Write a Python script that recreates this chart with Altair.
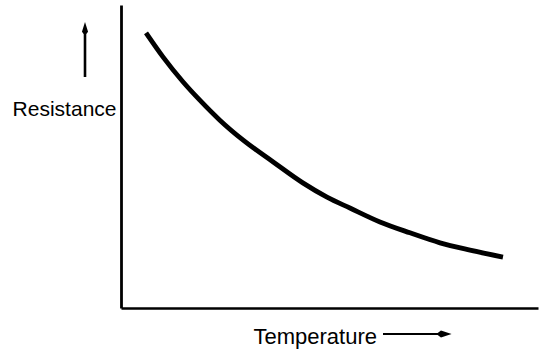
import altair as alt
import pandas as pd

# Values (arbitrary 0-100 units)
temperature = [6.0, 10.1, 14.9, 18.9, 23.7, 29.3, 36.5, 43.6, 49.4, 54.9, 62.1, 69.3, 76.5, 83.7, 91.6]
resistance = [90.8, 82.8, 74.6, 68.6, 62.0, 55.4, 48.2, 41.3, 36.6, 33.0, 28.4, 24.8, 21.5, 19.1, 16.8]

x_title = "Temperature"
y_title = "Resistance"

df = pd.DataFrame({"T": temperature, "R": resistance})
one = pd.DataFrame({"k": [0]})

FONT = "Liberation Sans"

curve = alt.Chart(df).mark_line(
    color="black", strokeWidth=4.8, interpolate="monotone", strokeCap="butt"
).encode(
    x=alt.X("T:Q", scale=alt.Scale(domain=[0, 100], nice=False, zero=False),
            axis=alt.Axis(title=x_title, ticks=False, labels=False, grid=False,
                          domainColor="black", domainWidth=2.5,
                          titleFont=FONT, titleFontSize=22, titleFontWeight="normal",
                          titleColor="black", titleAlign="left", titleBaseline="alphabetic",
                          titleAnchor="start", titleX=132, titleY=35)),
    y=alt.Y("R:Q", scale=alt.Scale(domain=[0, 100], nice=False, zero=False),
            axis=alt.Axis(title=y_title, ticks=False, labels=False, grid=False,
                          domainColor="black", domainWidth=2.8,
                          titleFont=FONT, titleFontSize=21, titleFontWeight="normal",
                          titleColor="black", titleAngle=0, titleAlign="right",
                          titleBaseline="alphabetic", titleAnchor="start",
                          titleX=-5, titleY=110)),
)

# Up arrow next to "Resistance"
up_shaft = alt.Chart(one).mark_rule(color="black", strokeWidth=2.6).encode(
    x=alt.value(-36), y=alt.value(72), y2=alt.value(28)
)
up_head = alt.Chart(one).mark_point(
    shape="M 0 -1 L 0.5 0.6 L 0.2 1 L -0.2 1 L -0.5 0.6 Z", filled=True,
    color="black", opacity=1, size=150
).encode(x=alt.value(-36), y=alt.value(23))

# Right arrow next to "Temperature"
right_shaft = alt.Chart(one).mark_rule(color="black", strokeWidth=2).encode(
    x=alt.value(262), x2=alt.value(318), y=alt.value(329)
)
right_head = alt.Chart(one).mark_point(
    shape="M -1 0 L -0.4 -0.45 L 1 0 L -0.4 0.45 Z", filled=True,
    color="black", opacity=1, size=230
).encode(x=alt.value(323), y=alt.value(329))

chart = alt.layer(curve, up_shaft, up_head, right_shaft, right_head).properties(
    width=417, height=303,
    autosize=alt.AutoSizeParams(type="none"),
    padding={"left": 121, "top": 5, "right": 22, "bottom": 44},
    background="white",
).configure_view(stroke=None)

chart.save("out.html", embed_options={"renderer": "svg", "actions": False})
